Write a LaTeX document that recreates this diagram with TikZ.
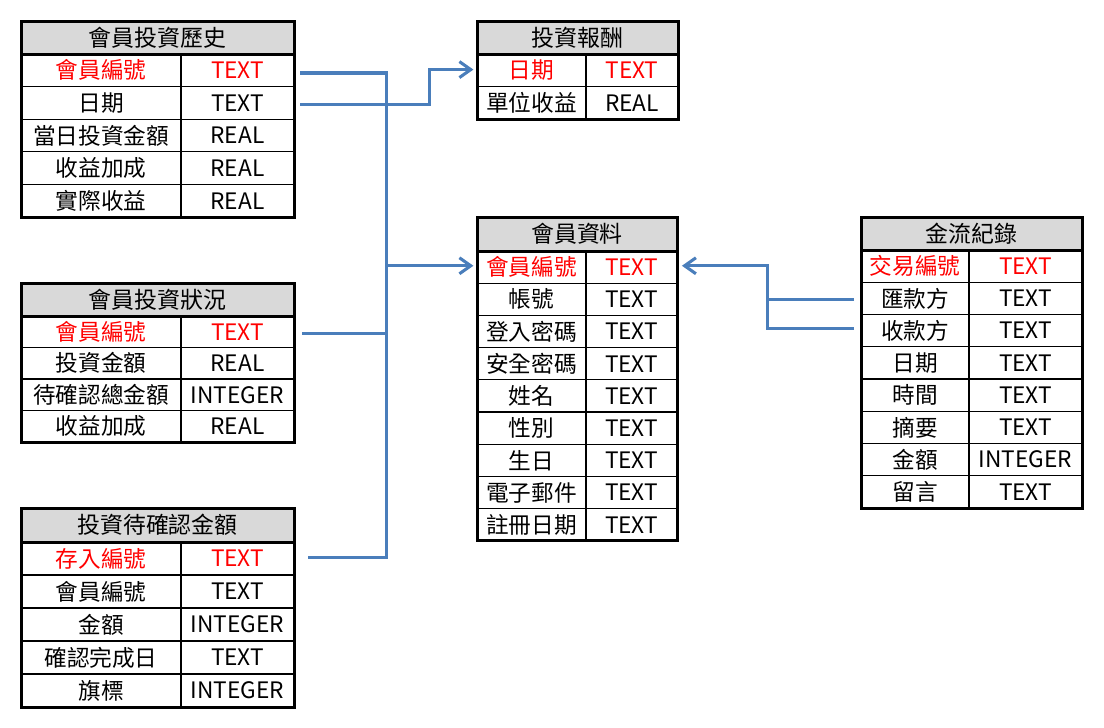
\documentclass[tikz,border=0pt]{standalone}
\usepackage{fontspec}
\setmainfont{Noto Sans CJK TC}
\usetikzlibrary{arrows.meta}
\definecolor{linkblue}{RGB}{74,126,187}
\definecolor{hdrgray}{RGB}{217,217,217}
\definecolor{keyred}{RGB}{255,0,0}
\tikzset{
  hdr/.style={inner sep=0pt, font=\fontsize{17.2}{18}\selectfont},
  cell/.style={inner sep=0pt, font=\fontsize{17}{18}\selectfont},
  thinrule/.style={line width=1pt, draw=black},
  thickrule/.style={line width=2.25pt, draw=black},
  link/.style={line width=2.3pt, draw=linkblue},
  linkarrow/.style={link, -{Straight Barb[length=8.5pt,width=12pt,line width=2.3pt]}}
}
\newcommand\dbtable[9]{%
  \fill[hdrgray] ({#2},{#5}) rectangle ({#4},{#5+#6});
  \node[hdr, minimum width={(#4-#2)*0.75pt}, minimum height={#6*0.75pt}] (#1-h) at ({(#2+#4)/2},{#5+#6/2}) {#8};
  \foreach [count=\i] \fa/\fb/\fc in {#9} {
    \node[cell, text=\fc, minimum width={(#3-#2)*0.75pt}, minimum height={#7*0.75pt}] (#1-\i-a) at ({(#2+#3)/2},{#5+#6+(\i-0.5)*#7}) {\fa};
    \node[cell, text=\fc, minimum width={(#4-#3)*0.75pt}, minimum height={#7*0.75pt}] (#1-\i-b) at ({(#3+#4)/2},{#5+#6+(\i-0.5)*#7}) {\fb};
    \draw[thinrule] ({#2},{#5+#6+\i*#7}) -- ({#4},{#5+#6+\i*#7});
    \xdef\lastrow{\i}
  }
  \draw[thinrule] ({#3},{#5+#6}) -- ({#3},{#5+#6+\lastrow*#7});
  \draw[thickrule] ({#2},{#5+#6}) -- ({#4},{#5+#6});
  \draw[thickrule] ({#2},{#5}) rectangle ({#4},{#5+#6+\lastrow*#7});
}
\begin{document}
\begin{tikzpicture}[x=0.75pt, y=-0.75pt]
\useasboundingbox (0,0) rectangle (1104,728);

\dbtable{t1}{21}{181}{294}{21}{33}{32.6}{會員投資歷史}{會員編號/TEXT/keyred, 日期/TEXT/black, 當日投資金額/REAL/black, 收益加成/REAL/black, 實際收益/REAL/black}
\dbtable{t2}{21}{181}{294}{283}{33}{31.5}{會員投資狀況}{會員編號/TEXT/keyred, 投資金額/REAL/black, 待確認總金額/INTEGER/black, 收益加成/REAL/black}
\dbtable{t3}{21}{181}{294}{508}{34}{33}{投資待確認金額}{存入編號/TEXT/keyred, 會員編號/TEXT/black, 金額/INTEGER/black, 確認完成日/TEXT/black, 旗標/INTEGER/black}
\dbtable{t4}{477}{586}{678}{21}{33}{32.5}{投資報酬}{日期/TEXT/keyred, 單位收益/REAL/black}
\dbtable{t5}{477}{586}{677}{217}{34}{32.2}{會員資料}{會員編號/TEXT/keyred, 帳號/TEXT/black, 登入密碼/TEXT/black, 安全密碼/TEXT/black, 姓名/TEXT/black, 性別/TEXT/black, 生日/TEXT/black, 電子郵件/TEXT/black, 註冊日期/TEXT/black}
\dbtable{t6}{861}{969}{1082}{217}{33}{32.25}{金流紀錄}{交易編號/TEXT/keyred, 匯款方/TEXT/black, 收款方/TEXT/black, 日期/TEXT/black, 時間/TEXT/black, 摘要/TEXT/black, 金額/INTEGER/black, 留言/TEXT/black}

% junction columns
\coordinate (tr) at (386.5,0);
\coordinate (el) at (429.5,0);
\coordinate (tr2) at (767.5,0);

\path ([xshift=4.5pt,yshift=-2pt]t1-1-b.east) coordinate (s1)
      ([xshift=4.5pt,yshift=-1pt]t1-2-b.east) coordinate (s2)
      ([xshift=6pt,yshift=-1.5pt]t2-1-b.east) coordinate (s3)
      ([xshift=10.5pt,yshift=1pt]t3-1-b.east) coordinate (s4)
      ([xshift=-2.5pt,yshift=0.5pt]t4-1-a.west) coordinate (e1)
      ([xshift=-2.5pt,yshift=1pt]t5-1-a.west) coordinate (e2)
      ([xshift=3.5pt,yshift=1pt]t5-1-b.east) coordinate (e3)
      ([xshift=-5pt,yshift=-0.5pt]t6-2-a.west) coordinate (s5)
      ([xshift=-5pt,yshift=1.5pt]t6-3-a.west) coordinate (s6);

\draw[link] (s1) -- (s1 -| tr) -- (s4 -| tr) -- (s4);
\draw[link] (s3) -- (s3 -| tr);
\draw[linkarrow] (e2 -| tr) -- (e2);
\draw[linkarrow] (s2) -- (s2 -| el) -- (e1 -| el) -- (e1);
\draw[link] (s5) -- (s5 -| tr2);
\draw[linkarrow] (s6) -- (s6 -| tr2) -- (e3 -| tr2) -- (e3);
\end{tikzpicture}
\end{document}
